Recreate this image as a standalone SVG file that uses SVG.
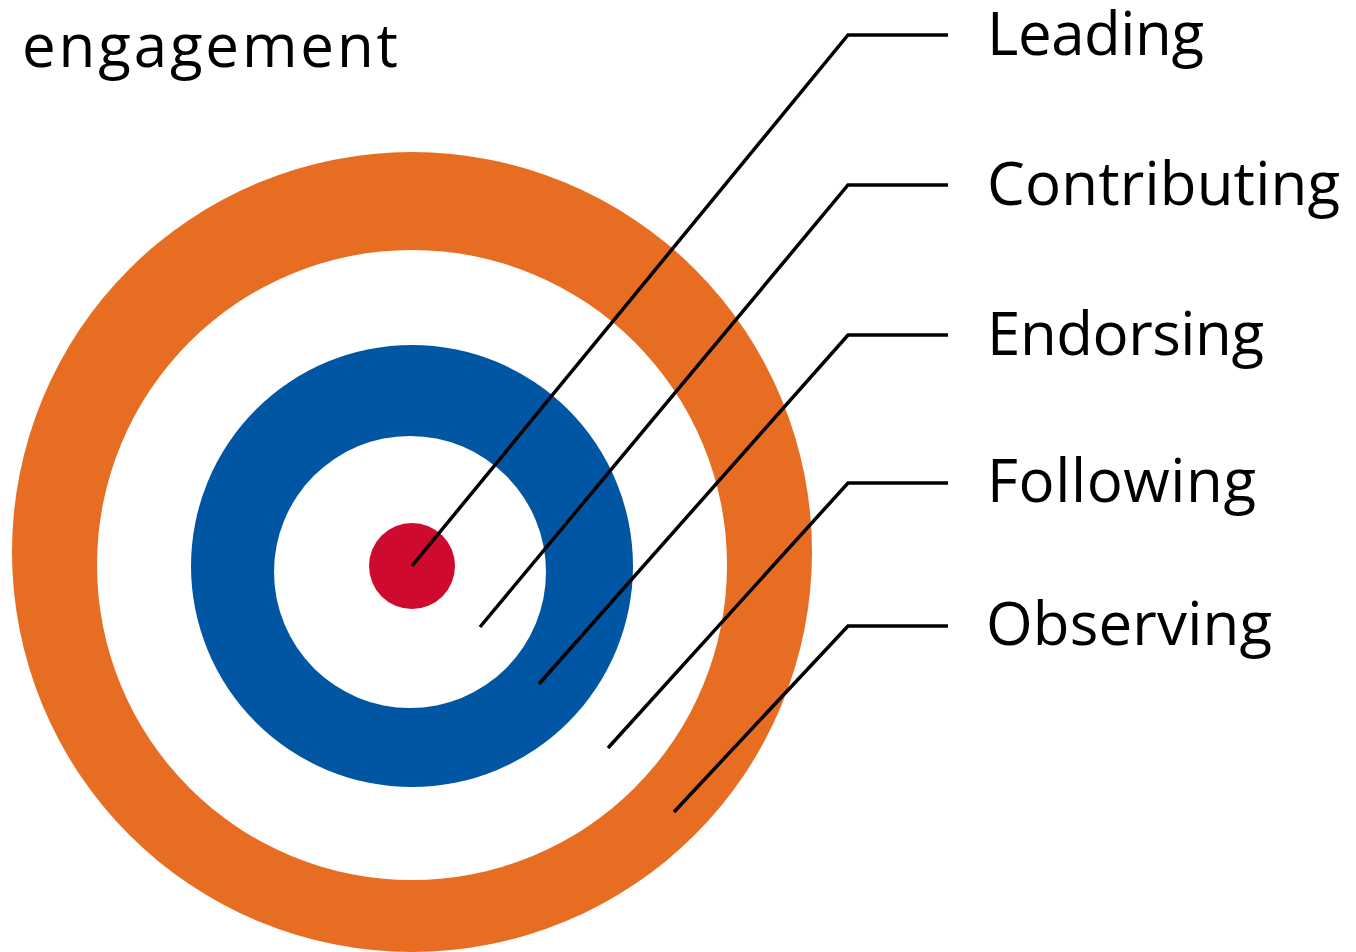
<svg xmlns="http://www.w3.org/2000/svg" width="1356" height="952" viewBox="0 0 1356 952">
<style>
text{font-family:"Open Sans","Noto Sans","Liberation Sans",sans-serif;font-size:60px;fill:#000}
.ln{fill:none;stroke:#000;stroke-width:3.5;stroke-linejoin:miter}
</style>
<rect width="1356" height="952" fill="#fff"/>
<g id="rings">
<circle id="ring-observing" cx="412" cy="552" r="400" fill="#E76D22"/>
<circle id="ring-following" cx="412" cy="565" r="315" fill="#fff"/>
<circle id="ring-endorsing" cx="412" cy="566" r="221" fill="#0156A4"/>
<circle id="ring-contributing" cx="410" cy="572" r="136" fill="#fff"/>
<circle id="ring-leading" cx="412" cy="566" r="43" fill="#CE0B2F"/>
</g>
<g id="connectors">
<polyline class="ln" points="412,566 848,35 948,35"/>
<polyline class="ln" points="480,627 848,185 948,185"/>
<polyline class="ln" points="539,684 848,335 948,335"/>
<polyline class="ln" points="608,748 848,483 948,483"/>
<polyline class="ln" points="674,812 848,626 948,626"/>
</g>
<g id="title"><text x="22" y="67" textLength="376">engagement</text></g>
<g id="label-leading"><text x="987" y="55" textLength="217">Leading</text></g>
<g id="label-contributing"><text x="987" y="205" textLength="353">Contributing</text></g>
<g id="label-endorsing"><text x="987" y="355" textLength="277">Endorsing</text></g>
<g id="label-following"><text x="987" y="502" textLength="269">Following</text></g>
<g id="label-observing"><text x="986" y="645" textLength="286">Observing</text></g>
</svg>
